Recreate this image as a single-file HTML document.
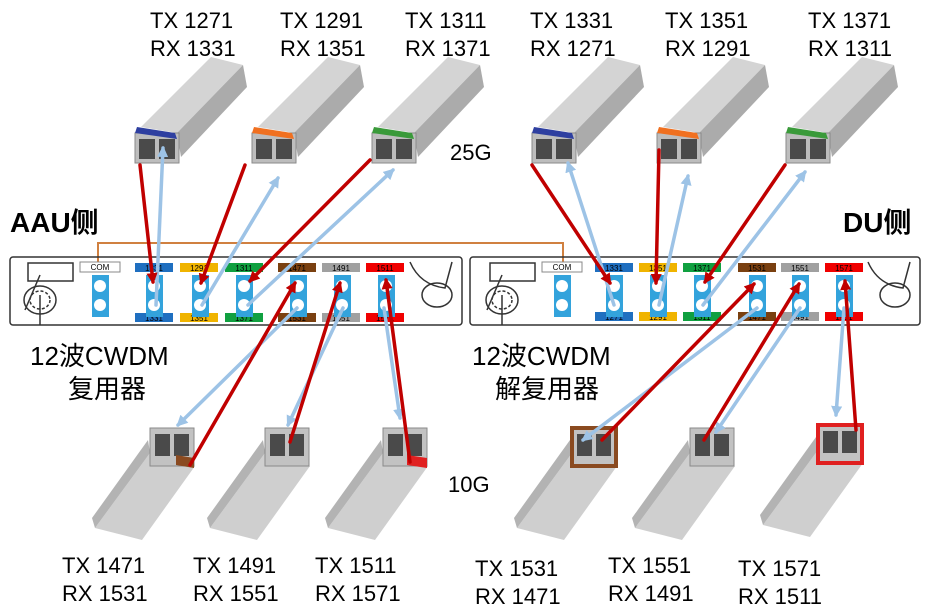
<!DOCTYPE html>
<html><head><meta charset="utf-8"><style>
html,body{margin:0;padding:0;background:#fff;}
svg{display:block;}
text{font-family:"Liberation Sans","Noto Sans CJK SC",sans-serif;}
</style></head><body>
<svg width="945" height="616" viewBox="0 0 945 616" xmlns="http://www.w3.org/2000/svg">
<defs>
<marker id="ar" viewBox="0 0 10 10" refX="8" refY="5" markerWidth="3.2" markerHeight="3.2" orient="auto"><path d="M0,0 L10,5 L0,10 z" fill="#c00000"/></marker>
<marker id="ab" viewBox="0 0 10 10" refX="8" refY="5" markerWidth="3.2" markerHeight="3.2" orient="auto"><path d="M0,0 L10,5 L0,10 z" fill="#9dc3e6"/></marker>
<g id="tm">
<polygon points="6,2 42,8 108,-60 76,-68" fill="#d4d4d4"/>
<polygon points="42,8 46,32 112,-38 108,-60" fill="#ababab"/>
<rect x="0" y="8" width="44" height="30" fill="#bdbdbd" stroke="#8a8a8a"/>
<rect x="4" y="14" width="16" height="20" fill="#4a4a4a"/>
<rect x="24" y="14" width="16" height="20" fill="#4a4a4a"/>
</g>
<g id="bm">
<polygon points="0,25 45,38 -8,112 -55,100" fill="#cfcfcf"/>
<polygon points="0,25 -55,100 -58,90 -2,12" fill="#b3b3b3"/>
<rect x="0" y="0" width="44" height="38" fill="#c2c2c2" stroke="#8a8a8a"/>
<rect x="5" y="6" width="15" height="22" fill="#4a4a4a"/>
<rect x="24" y="6" width="15" height="22" fill="#4a4a4a"/>
</g>
<g id="slot">
<rect x="-8" y="0" width="17" height="42" fill="#33a3dc"/>
<circle cx="0" cy="11" r="6" fill="#fff"/>
<circle cx="0" cy="30" r="6" fill="#fff"/>
</g>
</defs>

<!-- text top -->
<g font-size="22" fill="#000">
<text x="150" y="28">TX 1271</text><text x="150" y="56">RX 1331</text>
<text x="280" y="28">TX 1291</text><text x="280" y="56">RX 1351</text>
<text x="405" y="28">TX 1311</text><text x="405" y="56">RX 1371</text>
<text x="530" y="28">TX 1331</text><text x="530" y="56">RX 1271</text>
<text x="665" y="28">TX 1351</text><text x="665" y="56">RX 1291</text>
<text x="808" y="28">TX 1371</text><text x="808" y="56">RX 1311</text>
<text x="450" y="160">25G</text>
<text x="448" y="492">10G</text>
<text x="62" y="573">TX 1471</text><text x="62" y="601">RX 1531</text>
<text x="193" y="573">TX 1491</text><text x="193" y="601">RX 1551</text>
<text x="315" y="573">TX 1511</text><text x="315" y="601">RX 1571</text>
<text x="475" y="576">TX 1531</text><text x="475" y="604">RX 1471</text>
<text x="608" y="573">TX 1551</text><text x="608" y="601">RX 1491</text>
<text x="738" y="576">TX 1571</text><text x="738" y="604">RX 1511</text>
</g>
<text x="10" y="232" font-size="28" font-weight="bold">AAU侧</text>
<text x="843" y="232" font-size="28" font-weight="bold">DU侧</text>
<g font-size="26">
<text x="30" y="365">12波CWDM</text><text x="68" y="398">复用器</text>
<text x="472" y="365">12波CWDM</text><text x="495" y="398">解复用器</text>
</g>

<!-- modules top -->
<use href="#tm" x="135" y="125"/>
<polygon points="137,127 175,133 177,139 135,133" fill="#2e3fa0"/>
<use href="#tm" x="252" y="125"/>
<polygon points="254,127 292,133 294,139 252,133" fill="#f07020"/>
<use href="#tm" x="372" y="125"/>
<polygon points="374,127 412,133 414,139 372,133" fill="#3a9a3a"/>
<use href="#tm" x="532" y="125"/>
<polygon points="534,127 572,133 574,139 532,133" fill="#2e3fa0"/>
<use href="#tm" x="657" y="125"/>
<polygon points="659,127 697,133 699,139 657,133" fill="#f07020"/>
<use href="#tm" x="786" y="125"/>
<polygon points="788,127 826,133 828,139 786,133" fill="#3a9a3a"/>

<!-- modules bottom -->
<use href="#bm" x="150" y="428"/>
<polygon points="176,455 194,458 194,468 176,465" fill="#8a4a20"/>
<use href="#bm" x="265" y="428"/>
<use href="#bm" x="383" y="428"/>
<polygon points="407,455 427,458 427,468 407,465" fill="#e02020"/>
<use href="#bm" x="572" y="428"/>
<rect x="572" y="428" width="44" height="38" fill="none" stroke="#8a4a20" stroke-width="4"/>
<use href="#bm" x="690" y="428"/>
<use href="#bm" x="818" y="425"/>
<rect x="818" y="425" width="44" height="38" fill="none" stroke="#e02020" stroke-width="4"/>

<!-- orange COM line -->
<polyline points="98,268 98,243 563,243 563,268" fill="none" stroke="#d08040" stroke-width="2"/>

<!-- panels -->
<g fill="none" stroke="#333" stroke-width="1.5">
<rect x="10" y="257" width="452" height="68" rx="3"/>
<rect x="470" y="257" width="450" height="68" rx="3"/>
<rect x="28" y="263" width="45" height="18"/>
<rect x="490" y="263" width="45" height="18"/>
<ellipse cx="40" cy="300" rx="16" ry="14"/><ellipse cx="40" cy="300" rx="10" ry="9" stroke-dasharray="3,2"/>
<ellipse cx="502" cy="300" rx="16" ry="14"/><ellipse cx="502" cy="300" rx="10" ry="9" stroke-dasharray="3,2"/>
<line x1="25" y1="310" x2="40" y2="275"/><line x1="40" y1="295" x2="40" y2="325"/>
<line x1="487" y1="310" x2="502" y2="275"/><line x1="502" y1="295" x2="502" y2="325"/>
<ellipse cx="437" cy="295" rx="15" ry="12"/><path d="M410,262 Q420,285 445,288 L452,262"/>
<ellipse cx="895" cy="295" rx="15" ry="12"/><path d="M868,262 Q878,285 903,288 L910,262"/>
</g>
<g font-size="8" text-anchor="middle" fill="#000">
<rect x="80" y="262" width="40" height="10" fill="#fff" stroke="#888"/><text x="100" y="270">COM</text>
<rect x="542" y="262" width="40" height="10" fill="#fff" stroke="#888"/><text x="562" y="270">COM</text>
<!-- left top labels -->
<rect x="135" y="263" width="38" height="9" fill="#1f6fc0"/><text x="154" y="271">1331</text>
<rect x="180" y="263" width="38" height="9" fill="#f0b400"/><text x="199" y="271">1291</text>
<rect x="225" y="263" width="38" height="9" fill="#10a040"/><text x="244" y="271">1311</text>
<rect x="278" y="263" width="38" height="9" fill="#7a4010"/><text x="297" y="271">1471</text>
<rect x="322" y="263" width="38" height="9" fill="#a0a0a0"/><text x="341" y="271">1491</text>
<rect x="366" y="263" width="38" height="9" fill="#f00000"/><text x="385" y="271">1511</text>
<rect x="135" y="313" width="38" height="9" fill="#1f6fc0"/><text x="154" y="321">1331</text>
<rect x="180" y="313" width="38" height="9" fill="#f0b400"/><text x="199" y="321">1351</text>
<rect x="225" y="313" width="38" height="9" fill="#10a040"/><text x="244" y="321">1371</text>
<rect x="278" y="313" width="38" height="9" fill="#7a4010"/><text x="297" y="321">1531</text>
<rect x="322" y="313" width="38" height="9" fill="#a0a0a0"/><text x="341" y="321">1551</text>
<rect x="366" y="313" width="38" height="9" fill="#f00000"/><text x="385" y="321">1571</text>
<!-- right labels -->
<rect x="595" y="263" width="38" height="9" fill="#1f6fc0"/><text x="614" y="271">1331</text>
<rect x="639" y="263" width="38" height="9" fill="#f0b400"/><text x="658" y="271">1351</text>
<rect x="683" y="263" width="38" height="9" fill="#10a040"/><text x="702" y="271">1371</text>
<rect x="738" y="263" width="38" height="9" fill="#7a4010"/><text x="757" y="271">1531</text>
<rect x="781" y="263" width="38" height="9" fill="#a0a0a0"/><text x="800" y="271">1551</text>
<rect x="825" y="263" width="38" height="9" fill="#f00000"/><text x="844" y="271">1571</text>
<rect x="595" y="312" width="38" height="9" fill="#1f6fc0"/><text x="614" y="320">1271</text>
<rect x="639" y="312" width="38" height="9" fill="#f0b400"/><text x="658" y="320">1291</text>
<rect x="683" y="312" width="38" height="9" fill="#10a040"/><text x="702" y="320">1311</text>
<rect x="738" y="312" width="38" height="9" fill="#7a4010"/><text x="757" y="320">1471</text>
<rect x="781" y="312" width="38" height="9" fill="#a0a0a0"/><text x="800" y="320">1491</text>
<rect x="825" y="312" width="38" height="9" fill="#f00000"/><text x="844" y="320">1511</text>
</g>
<use href="#slot" x="100" y="275"/>
<use href="#slot" x="154" y="275"/>
<use href="#slot" x="200" y="275"/>
<use href="#slot" x="244" y="275"/>
<use href="#slot" x="298" y="275"/>
<use href="#slot" x="342" y="275"/>
<use href="#slot" x="386" y="275"/>
<use href="#slot" x="562" y="275"/>
<use href="#slot" x="614" y="275"/>
<use href="#slot" x="658" y="275"/>
<use href="#slot" x="702" y="275"/>
<use href="#slot" x="757" y="275"/>
<use href="#slot" x="800" y="275"/>
<use href="#slot" x="844" y="275"/>

<!-- arrows -->
<g stroke-width="3.5" fill="none" stroke-linecap="round">
<g stroke="#9dc3e6" marker-end="url(#ab)">
<line x1="156" y1="305" x2="163" y2="148"/>
<line x1="202" y1="305" x2="278" y2="178"/>
<line x1="248" y1="305" x2="393" y2="170"/>
<line x1="297" y1="308" x2="178" y2="425"/>
<line x1="343" y1="308" x2="288" y2="425"/>
<line x1="384" y1="308" x2="400" y2="418"/>
<line x1="614" y1="305" x2="568" y2="163"/>
<line x1="659" y1="305" x2="688" y2="176"/>
<line x1="703" y1="305" x2="805" y2="172"/>
<line x1="757" y1="308" x2="583" y2="440"/>
<line x1="800" y1="308" x2="716" y2="432"/>
<line x1="844" y1="308" x2="836" y2="415"/>
</g>
<g stroke="#c00000" marker-end="url(#ar)">
<line x1="140" y1="165" x2="153" y2="282"/>
<line x1="245" y1="165" x2="201" y2="283"/>
<line x1="370" y1="160" x2="250" y2="281"/>
<line x1="190" y1="465" x2="295" y2="283"/>
<line x1="290" y1="442" x2="340" y2="283"/>
<line x1="410" y1="462" x2="386" y2="280"/>
<line x1="532" y1="165" x2="610" y2="283"/>
<line x1="659" y1="150" x2="656" y2="283"/>
<line x1="785" y1="165" x2="705" y2="282"/>
<line x1="602" y1="440" x2="754" y2="284"/>
<line x1="704" y1="440" x2="799" y2="284"/>
<line x1="856" y1="430" x2="845" y2="281"/>
</g>
</g>
</svg>
</body></html>
